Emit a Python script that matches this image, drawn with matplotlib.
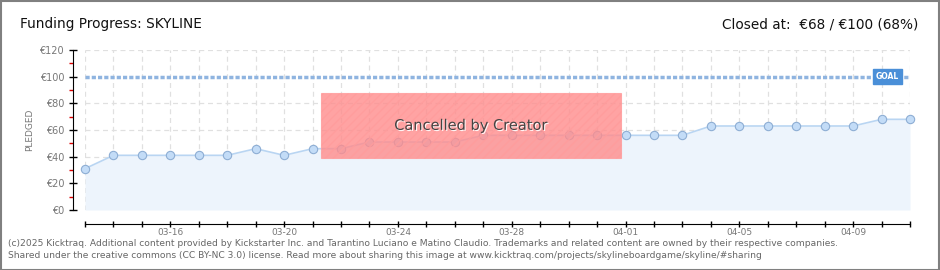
import matplotlib
matplotlib.use("Agg")
import matplotlib.pyplot as plt
import numpy as np
import matplotlib.patheffects as pe
from matplotlib.patches import Rectangle

dates = ["03-13", "03-14", "03-15", "03-16", "03-17", "03-18", "03-19", "03-20",
         "03-21", "03-22", "03-23", "03-24", "03-25", "03-26", "03-27", "03-28",
         "03-29", "03-30", "03-31", "04-01", "04-02", "04-03", "04-04", "04-05",
         "04-06", "04-07", "04-08", "04-09", "04-10", "04-11"]
pledged = [31, 41, 41, 41, 41, 41, 46, 41, 46, 46, 51, 51, 51, 51, 56, 56,
           56, 56, 56, 56, 56, 56, 63, 63, 63, 63, 63, 63, 68, 68]
goal = 100
y_ticks = [0, 20, 40, 60, 80, 100, 120]
y_labels = ["€0", "€20", "€40", "€60", "€80", "€100", "€120"]
x_label_dates = ["03-16", "03-20", "03-24", "03-28", "04-01", "04-05", "04-09"]
cancel_start, cancel_end = "03-21", "04-01"

plt.rcParams["hatch.color"] = "#f49090"

W, H = 940, 270
fig = plt.figure(figsize=(W / 100, H / 100), dpi=100)
fig.patch.set_facecolor("white")
fig.add_artist(Rectangle((0.5 / W, 0.5 / H), 1 - 1.5 / W, 1 - 1.5 / H, transform=fig.transFigure,
                         fill=False, edgecolor="#808080", linewidth=1.5))

ax = fig.add_axes([85 / W, 1 - 210 / H, (910 - 85) / W, (210 - 50) / H])
x = np.arange(len(dates))
ax.set_xlim(0, len(dates) - 1)
ax.set_ylim(0, 120)

for xi in x:
    ax.axvline(xi, color="#e0e0e0", linestyle=(0, (4, 3)), linewidth=0.9, zorder=0)
for yv in y_ticks:
    if yv != goal:
        ax.axhline(yv, color="#e0e0e0", linestyle=(0, (4, 3)), linewidth=0.9, zorder=0)

ax.fill_between(x, pledged, 0, color="#edf4fc", zorder=1, linewidth=0)
ax.plot(x, pledged, color="#b9d5f2", linewidth=1.2, zorder=2)
ax.plot(x, pledged, linestyle="none", marker="o", markersize=6,
        markerfacecolor="#c3dcf7", markeredgecolor="#8eaed4", markeredgewidth=0.8,
        zorder=3, clip_on=False)

ax.axhline(goal, color="#8fb4e0", linestyle=(0, (1.2, 0.6)), linewidth=2.5, zorder=2)
ax.text(len(dates) - 1.8, goal, "GOAL", ha="center", va="center", fontsize=5.5,
        color="white", fontweight="bold", zorder=6,
        bbox=dict(boxstyle="square,pad=0.35", facecolor="#4a8fd8", edgecolor="#4a8fd8"))

i0 = dates.index(cancel_start) + 0.3
i1 = dates.index(cancel_end) - 0.15
ax.add_patch(Rectangle((i0, 39), i1 - i0, 49, facecolor="#ff8c8c", alpha=0.8,
                       edgecolor="#ff9c9c", hatch="////", linewidth=0.8, zorder=5))
ax.text((i0 + i1) / 2, 63.5, "Cancelled by Creator", ha="center", va="center",
        fontsize=10.5, color="#444444", zorder=6,
        path_effects=[pe.withSimplePatchShadow(offset=(0.8, -0.8), shadow_rgbFace="white", alpha=0.9)])

for s in ["top", "right"]:
    ax.spines[s].set_visible(False)
ax.spines["left"].set_position(("outward", 9))
ax.spines["bottom"].set_position(("outward", 10))

ax.set_yticks(y_ticks)
ax.set_yticklabels(y_labels)
ax.set_yticks([10, 30, 50, 70, 90, 110], minor=True)
ax.tick_params(axis="y", which="major", direction="inout", length=6, width=1,
               labelsize=7, labelcolor="#777777", pad=3)
ax.tick_params(axis="y", which="minor", direction="out", length=3, width=1, color="#dd0000")

ax.set_xticks(x)
ax.set_xticklabels([d if d in x_label_dates else "" for d in dates])
ax.tick_params(axis="x", which="major", direction="inout", length=5, width=1,
               labelsize=6.5, labelcolor="#777777", pad=0.5)

ax.set_ylabel("PLEDGED", fontsize=6.5, color="#777777", labelpad=4)

fig.text(20 / W, 1 - 24 / H, "Funding Progress: SKYLINE", fontsize=9.8, color="#111111",
         ha="left", va="center")
fig.text(918 / W, 1 - 24 / H, "Closed at:  €68 / €100 (68%)", fontsize=9.8, color="#111111",
         ha="right", va="center")
fig.text(8 / W, 1 - 243 / H,
         "(c)2025 Kicktraq. Additional content provided by Kickstarter Inc. and Tarantino Luciano e Matino Claudio. Trademarks and related content are owned by their respective companies.",
         fontsize=6.6, color="#666666", ha="left", va="center")
fig.text(8 / W, 1 - 256 / H,
         "Shared under the creative commons (CC BY-NC 3.0) license. Read more about sharing this image at www.kicktraq.com/projects/skylineboardgame/skyline/#sharing",
         fontsize=6.6, color="#666666", ha="left", va="center")

fig.savefig("out.png", dpi=100, facecolor="white")
